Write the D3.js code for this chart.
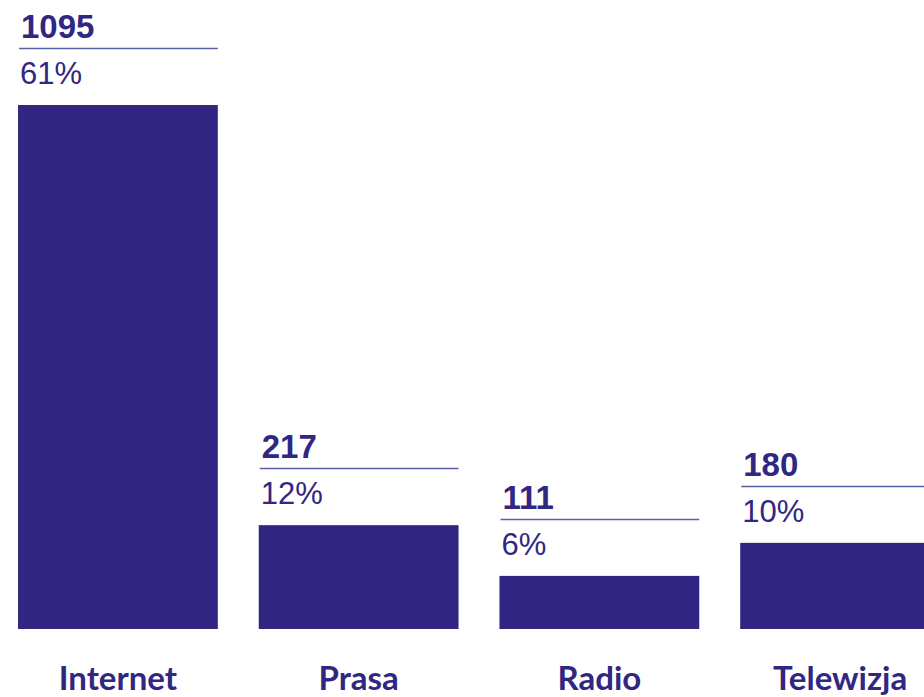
<!DOCTYPE html>
<html>
<head>
<meta charset="utf-8">
<script src="https://cdn.jsdelivr.net/npm/d3@7"></script>
<style>
  html, body { margin: 0; padding: 0; background: #ffffff; }
  svg { display: block; }
</style>
</head>
<body>
<svg id="chart" width="924" height="697"></svg>
<script>
const categories = ["Internet", "Prasa", "Radio", "Telewizja"];
const counts = [1095, 217, 111, 180];
const percents = ["61%", "12%", "6%", "10%"];

const data = categories.map((c, i) => ({ cat: c, count: counts[i], pct: percents[i] }));

const barColor = "#312782";
const lineColor = "#5a60a9";
const baseY = 629;

const svg = d3.select("#chart");

const x = d3.scaleBand()
  .domain(categories)
  .range([18, 940])
  .paddingInner(0.17)
  .paddingOuter(0);

const y = d3.scaleLinear()
  .domain([0, d3.max(counts)])
  .range([baseY, 105]);

const g = svg.append("g");

g.selectAll("rect.bar")
  .data(data)
  .join("rect")
  .attr("class", "bar")
  .attr("x", d => x(d.cat))
  .attr("y", d => y(d.count))
  .attr("width", x.bandwidth())
  .attr("height", d => baseY - y(d.count))
  .attr("fill", barColor);

g.selectAll("line.sep")
  .data(data)
  .join("line")
  .attr("class", "sep")
  .attr("x1", d => x(d.cat) + 1)
  .attr("x2", d => x(d.cat) + x.bandwidth())
  .attr("y1", d => Math.round(y(d.count) - 57) + 0.5)
  .attr("y2", d => Math.round(y(d.count) - 57) + 0.5)
  .attr("stroke", lineColor)
  .attr("stroke-width", 1.3);

g.selectAll("text.count")
  .data(data)
  .join("text")
  .attr("class", "count")
  .attr("x", d => x(d.cat) + 3)
  .attr("y", d => y(d.count) - 67)
  .attr("fill", barColor)
  .style("font-family", "'Liberation Sans', Arial, sans-serif")
  .style("font-weight", "bold")
  .style("font-size", "33px")
  .text(d => d.count);

g.selectAll("text.pct")
  .data(data)
  .join("text")
  .attr("class", "pct")
  .attr("x", d => x(d.cat) + 2)
  .attr("y", d => y(d.count) - 21)
  .attr("fill", barColor)
  .style("font-family", "'Liberation Sans', Arial, sans-serif")
  .style("font-size", "31px")
  .text(d => d.pct);

g.selectAll("text.cat")
  .data(data)
  .join("text")
  .attr("class", "cat")
  .attr("x", d => x(d.cat) + x.bandwidth() / 2)
  .attr("y", 690)
  .attr("text-anchor", "middle")
  .attr("fill", barColor)
  .style("font-family", "Lato, 'Open Sans', sans-serif")
  .style("font-weight", "bold")
  .style("font-size", "33px")
  .text(d => d.cat);
</script>
</body>
</html>
